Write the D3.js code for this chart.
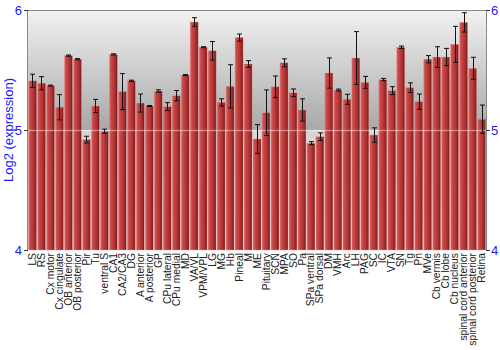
<!DOCTYPE html>
<html>
<head>
<meta charset="utf-8">
<script src="https://cdn.jsdelivr.net/npm/d3@7"></script>
<style>
  body { margin: 0; background: #fff; }
  svg { display: block; font-family: "Liberation Sans", Arial, sans-serif; }
</style>
</head>
<body>
<svg id="chart"></svg>
<script>
const width = 500, height = 350;
const margin = {top: 10, right: 14, bottom: 100, left: 28};

// brain regions
const categories = ["LS", "RS", "Cx motor", "Cx cingulate", "OB anterior", "OB posterior", "Pir", "Tu",
    "ventral S", "CA1", "CA2/CA3", "DG", "A anterior", "A posterior", "GP", "CPu lateral", "CPu medial",
    "MD", "VA/VL", "VPM/VPL", "LG", "MG", "Hb", "Pineal", "M", "ME", "Pituitary", "SCN", "MPA", "SO", "Pa",
    "SPa ventral", "SPa dorsal", "DM", "VMH", "Arc", "LH", "PAG", "SC", "IC", "VTA", "SN", "Tg", "Pn", "MVe",
    "Cb vermis", "Cb lobe", "Cb nucleus", "spinal cord anterior", "spinal cord posterior", "Retina"];

// log2 expression (mean)
const values = [5.41, 5.39, 5.37, 5.19, 5.62, 5.59, 4.92, 5.20,
    4.99, 5.63, 5.32, 5.41, 5.225, 5.20, 5.325, 5.195, 5.286,
    5.458, 5.90, 5.69, 5.66, 5.23, 5.364, 5.77, 5.55, 4.925, 5.144, 5.36, 5.56, 5.31, 5.167,
    4.89, 4.944, 5.475, 5.333, 5.256, 5.60, 5.397, 4.958, 5.42, 5.328, 5.69, 5.353, 5.236, 5.59,
    5.608, 5.608, 5.714, 5.897, 5.514, 5.09];

// error bar half-widths
const errors = [0.055, 0.055, 0.004, 0.105, 0.005, 0.005, 0.028, 0.055,
    0.017, 0.005, 0.15, 0.005, 0.075, 0.004, 0.01, 0.033, 0.043,
    0.005, 0.036, 0.004, 0.077, 0.03, 0.18, 0.03, 0.028, 0.12, 0.19, 0.09, 0.033, 0.032, 0.093,
    0.0125, 0.032, 0.126, 0.008, 0.042, 0.22, 0.05, 0.06, 0.01, 0.033, 0.01, 0.04, 0.064, 0.03,
    0.086, 0.072, 0.15, 0.08, 0.092, 0.118];

const yTicks = [4, 5, 6];

const data = categories.map((c, i) => ({name: c, value: values[i], err: errors[i]}));

const svg = d3.select("#chart").attr("width", width).attr("height", height);

const x = d3.scaleBand()
    .domain(categories)
    .range([margin.left, width - margin.right])
    .paddingInner(0.1)
    .paddingOuter(0.05);

const y = d3.scaleLinear()
    .domain([4, 6])
    .range([height - margin.bottom, margin.top]);

const defs = svg.append("defs");

// glossy grey background
const bg = defs.append("linearGradient")
    .attr("id", "bg-grad")
    .attr("x1", 0).attr("y1", 0).attr("x2", 0).attr("y2", 1);
bg.append("stop").attr("offset", "0%").attr("stop-color", "#f2f2f2");
bg.append("stop").attr("offset", "50%").attr("stop-color", "#a8a8a8");
bg.append("stop").attr("offset", "50%").attr("stop-color", "#d4d4d4");
bg.append("stop").attr("offset", "100%").attr("stop-color", "#fafafa");

// bar shading, light left -> dark right
const barGrad = defs.append("linearGradient")
    .attr("id", "bar-grad")
    .attr("x1", 0).attr("y1", 0).attr("x2", 1).attr("y2", 0);
barGrad.append("stop").attr("offset", "0%").attr("stop-color", "#d86868");
barGrad.append("stop").attr("offset", "25%").attr("stop-color", "#c84646");
barGrad.append("stop").attr("offset", "65%").attr("stop-color", "#b03232");
barGrad.append("stop").attr("offset", "100%").attr("stop-color", "#7c1818");

const plotW = width - margin.left - margin.right;
const plotH = height - margin.top - margin.bottom;

svg.append("rect")
    .attr("x", margin.left).attr("y", margin.top)
    .attr("width", plotW).attr("height", plotH)
    .attr("fill", "url(#bg-grad)");

// bars
svg.append("g")
    .selectAll("rect")
    .data(data)
    .join("rect")
    .attr("x", d => x(d.name))
    .attr("y", d => y(d.value))
    .attr("width", x.bandwidth())
    .attr("height", d => y(4) - y(d.value))
    .attr("fill", "url(#bar-grad)")
    .attr("stroke", "#e8a0a0")
    .attr("stroke-opacity", 0.6)
    .attr("stroke-width", 0.6);

// gridline at 5, drawn over bars
svg.append("line")
    .attr("x1", margin.left).attr("x2", width - margin.right)
    .attr("y1", y(5) + 0.5).attr("y2", y(5) + 0.5)
    .attr("stroke", "#fff")
    .attr("stroke-opacity", 0.4)
    .attr("stroke-width", 1.5);

// error bars
const eb = svg.append("g")
    .attr("stroke", "#111")
    .attr("stroke-width", 1)
    .selectAll("g")
    .data(data)
    .join("g")
    .attr("transform", d => `translate(${Math.round(x(d.name) + x.bandwidth() / 2) + 0.5},0)`);
eb.append("line")
    .attr("y1", d => y(d.value + d.err)).attr("y2", d => y(d.value - d.err));
eb.append("line")
    .attr("x1", -2.5).attr("x2", 2.5)
    .attr("y1", d => y(d.value + d.err)).attr("y2", d => y(d.value + d.err));
eb.append("line")
    .attr("x1", -2.5).attr("x2", 2.5)
    .attr("y1", d => y(d.value - d.err)).attr("y2", d => y(d.value - d.err));

// frame
svg.append("line")
    .attr("x1", margin.left).attr("x2", width - margin.right)
    .attr("y1", margin.top + 0.5).attr("y2", margin.top + 0.5)
    .attr("stroke", "#888");
svg.append("line")
    .attr("x1", margin.left - 0.5).attr("x2", margin.left - 0.5)
    .attr("y1", margin.top).attr("y2", height - margin.bottom)
    .attr("stroke", "#888");
svg.append("line")
    .attr("x1", width - margin.right + 0.5).attr("x2", width - margin.right + 0.5)
    .attr("y1", margin.top).attr("y2", height - margin.bottom)
    .attr("stroke", "#888");

// y axes, left and right
const yLeft = svg.append("g")
    .attr("transform", `translate(${margin.left},0)`)
    .call(d3.axisLeft(y).tickValues(yTicks).tickFormat(d3.format("d")).tickSize(4).tickPadding(2));
const yRight = svg.append("g")
    .attr("transform", `translate(${width - margin.right},0)`)
    .call(d3.axisRight(y).tickValues(yTicks).tickFormat(d3.format("d")).tickSize(4).tickPadding(1));
[yLeft, yRight].forEach(g => {
    g.select(".domain").remove();
    g.selectAll(".tick line").attr("stroke", "#333");
    g.selectAll(".tick text")
        .attr("fill", "#1a1aff")
        .style("font-size", "13px")
        .style("font-family", "\"Liberation Sans\", Arial, sans-serif");
});

// y title
svg.append("text")
    .attr("transform", `translate(13,${y(5)}) rotate(-90)`)
    .attr("text-anchor", "middle")
    .attr("fill", "#1a1aff")
    .style("font-size", "13px")
    .text("Log2 (expression)");

// x labels, rotated
const xAxis = svg.append("g")
    .attr("transform", `translate(0,${height - margin.bottom})`)
    .call(d3.axisBottom(x).tickSize(0).tickPadding(3));
xAxis.select(".domain").remove();
xAxis.selectAll(".tick text")
    .attr("transform", "rotate(-90)")
    .attr("text-anchor", "end")
    .attr("x", -3)
    .attr("y", 0)
    .attr("dy", "0.35em")
    .attr("fill", "#222")
    .style("font-size", "10.3px")
    .style("font-family", "\"Liberation Sans\", Arial, sans-serif");
</script>
</body>
</html>
